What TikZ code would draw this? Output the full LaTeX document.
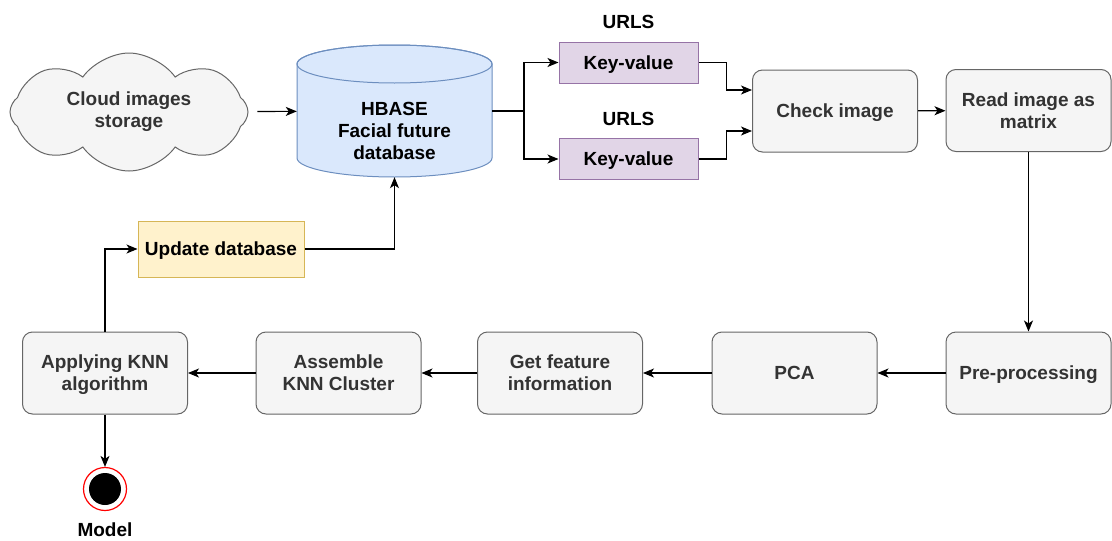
\documentclass[tikz,border=0pt]{standalone}
\usepackage{fontspec}
\setmainfont{Liberation Sans}
\usetikzlibrary{arrows.meta,positioning,shapes.symbols}
\definecolor{boxfill}{HTML}{F5F5F5}
\definecolor{boxline}{HTML}{666666}
\definecolor{boxtext}{HTML}{333333}
\definecolor{kvfill}{HTML}{E1D5E7}
\definecolor{kvline}{HTML}{9673A6}
\definecolor{updfill}{HTML}{FFF2CC}
\definecolor{updline}{HTML}{D6B656}
\definecolor{dbfill}{HTML}{DAE8FC}
\definecolor{dbline}{HTML}{6C8EBF}

\begin{document}
\begin{tikzpicture}
	[x=1pt,y=-1pt,font=\bfseries\fontsize{19}{22}\selectfont,
	proc node/.style={shape=rectangle,rounded corners=10pt,draw=boxline,fill=boxfill,text=boxtext,line width=1pt,minimum width=165pt,minimum height=82pt,align=center,text depth=0pt},
	kv node/.style={shape=rectangle,draw=kvline,fill=kvfill,line width=1pt,minimum width=139pt,minimum height=41pt,text depth=0pt},
	upd node/.style={shape=rectangle,draw=updline,fill=updfill,line width=1pt,minimum width=166pt,minimum height=56pt,text depth=0pt},
	arr/.style={-{Stealth[length=11pt,width=9pt,inset=3pt]},line width=1.1pt}]
	\useasboundingbox (0,0) rectangle (1112,541);
	
	\node [cloud,cloud puffs=8,cloud puff arc=110,aspect=2,draw=boxline,fill=boxfill,text=boxtext,line width=1pt,minimum width=238pt,minimum height=118pt,inner sep=0pt,align=center] (cloud) at (129,112) {Cloud images\\storage};
	
	\filldraw [fill=dbfill,draw=dbline,line width=1pt] (297,64) -- (297,158) arc[start angle=180,end angle=360,x radius=97.5pt,y radius=19pt] -- (492,64) arc[start angle=0,end angle=180,x radius=97.5pt,y radius=19pt] -- cycle;
	\draw [dbline,line width=1pt] (394.5,64) ellipse[x radius=97.5pt,y radius=19pt];
	\node [minimum width=195pt,minimum height=132pt,inner sep=0pt] (db) at (394.5,111) [label={[align=center,yshift=-20pt]center:HBASE\\Facial future\\database}] {};
	
	\node [kv node] (kv1) at (628.5,62.5) [label={[label distance=9pt]above:URLS}] {Key-value};
	\node [kv node] (kv2) at (628.5,159) [label={[label distance=9pt]above:URLS}] {Key-value};
	
	\node [proc node] (check) at (835,111) {Check image};
	\node [proc node] (read) at (1028.5,110.5) {Read image as\\matrix};
	\node [proc node] (pre) at (1028.5,373) {Pre-processing};
	\node [proc node] (pca) at (794.5,373) {PCA};
	\node [proc node] (feat) at (560,373) {Get feature\\information};
	\node [proc node] (asm) at (338.5,373) {Assemble\\KNN Cluster};
	\node [proc node] (knn) at (105,373) {Applying KNN\\algorithm};
	
	\node [upd node] (upd) at (221,249) {Update database};
	
	\node [shape=circle,draw=red,line width=1.2pt,fill=white,minimum size=43pt,inner sep=0pt,
		path picture={\fill[black] (path picture bounding box.center) circle[radius=16pt];}] (end) at (105,489) [label={[label distance=8pt]below:Model}] {};
	
	\coordinate (split) at (524,111);
	
	\path[arr]
	(cloud) edge [shorten <=9pt] (db)
	(check) edge (read)
	(read) edge (pre)
	(pre) edge (pca)
	(pca) edge (feat)
	(feat) edge (asm)
	(asm) edge (knn)
	(knn) edge (end);
	
	\draw [line width=1.1pt] (db.east) -- (split);
	\draw [arr] (split) |- (kv1.west);
	\draw [arr] (split) |- (kv2.west);
	\draw [arr] (kv1.east) -- ++(28,0) |- ([yshift=21pt]check.west);
	\draw [arr] (kv2.east) -- ++(28,0) |- ([yshift=-20pt]check.west);
	\draw [arr] (knn.north) |- (upd.west);
	\draw [arr] (upd.east) -| (db.south);
	
\end{tikzpicture}
\end{document}
